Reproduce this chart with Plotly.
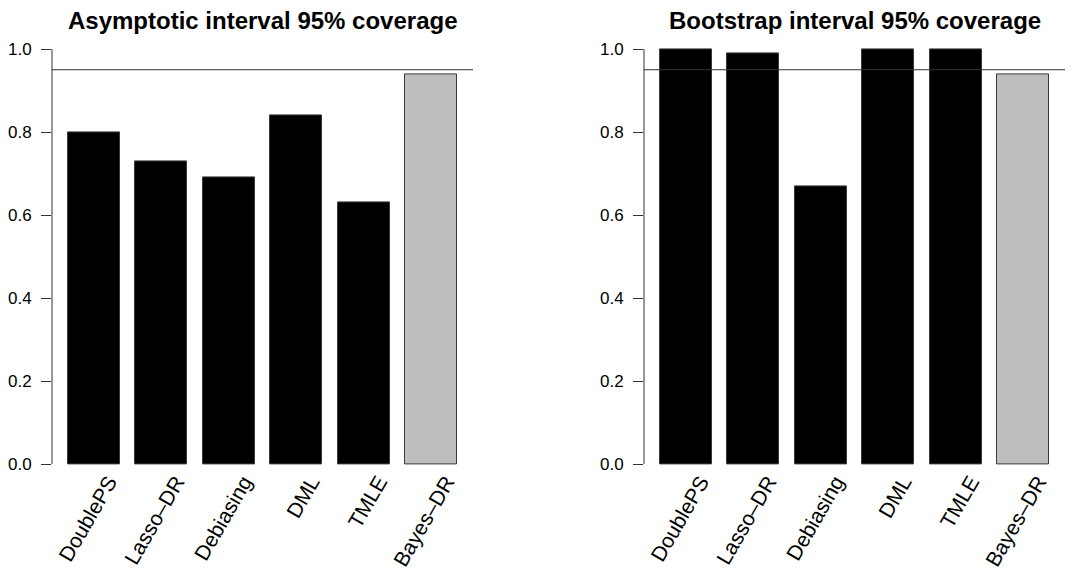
import plotly.graph_objects as go

methods = ["DoublePS", "Lasso–DR", "Debiasing", "DML", "TMLE", "Bayes–DR"]
asymptotic = [0.80, 0.73, 0.69, 0.84, 0.63, 0.94]
bootstrap = [1.00, 0.99, 0.67, 1.00, 1.00, 0.94]
bar_colors = ["#000000"] * 5 + ["#BEBEBE"]
titles = ["Asymptotic interval 95% coverage", "Bootstrap interval 95% coverage"]
target = 0.95
y_ticks = [0.0, 0.2, 0.4, 0.6, 0.8, 1.0]

FONT = "Liberation Sans, Arial, Helvetica, sans-serif"

fig = go.Figure()
series = [asymptotic, bootstrap]
xaxes = ["x", "x2"]
yaxes = ["y", "y2"]
for vals, xa, ya in zip(series, xaxes, yaxes):
    fig.add_trace(go.Bar(
        x=methods, y=vals, xaxis=xa, yaxis=ya,
        width=0.773,
        marker=dict(color=bar_colors, line=dict(color="#3a3a3a", width=1)),
        showlegend=False, hoverinfo="x+y",
    ))

xdoms = [[52 / 1075, 473 / 1075], [644 / 1075, 1065 / 1075]]
ydom = [1 - 480.6 / 573, 1 - 32.4 / 573]

axis_common_x = dict(
    type="category", range=[-0.617, 5.617], showgrid=False, zeroline=False,
    showline=False, ticks="", tickangle=-60, automargin=False,
    ticklabelstandoff=-16, ticklabelshift=15,
    tickfont=dict(family=FONT, size=21, color="#000"),
    fixedrange=True,
)
axis_common_y = dict(
    range=[-0.04, 1.04], showgrid=False, zeroline=False, showline=False,
    ticks="outside", ticklen=10, tickwidth=1, tickcolor="#333", automargin=False,
    tickvals=y_ticks, ticktext=[f"{v:.1f}" for v in y_ticks],
    ticklabelstandoff=6,
    tickfont=dict(family=FONT, size=17, color="#000"),
    fixedrange=True,
)

fig.update_layout(
    xaxis=dict(domain=xdoms[0], anchor="y", **axis_common_x),
    xaxis2=dict(domain=xdoms[1], anchor="y2", **axis_common_x),
    yaxis=dict(domain=ydom, anchor="x", **axis_common_y),
    yaxis2=dict(domain=ydom, anchor="x2", **axis_common_y),
    width=1075, height=573,
    margin=dict(l=0, r=0, t=0, b=0, autoexpand=False),
    plot_bgcolor="white", paper_bgcolor="white",
    bargap=0,
)

for i, (xa, ya) in enumerate(zip(xaxes, yaxes)):
    # reference line at 95%
    fig.add_shape(type="line", xref=f"{xa} domain", yref=ya,
                  x0=0, x1=1, y0=target, y1=target,
                  line=dict(color="#333", width=1))
    # y axis line from first to last tick
    fig.add_shape(type="line", xref=f"{xa} domain", yref=ya,
                  x0=0, x1=0, y0=y_ticks[0], y1=y_ticks[-1],
                  line=dict(color="#333", width=1))
    fig.add_annotation(
        text=f"<b>{titles[i]}</b>", xref=f"{xa} domain", yref="paper",
        x=0.5, y=1 - 20 / 573, xanchor="center", yanchor="middle",
        showarrow=False, font=dict(family=FONT, size=24, color="#000"),
    )

fig.write_html("out.html")
